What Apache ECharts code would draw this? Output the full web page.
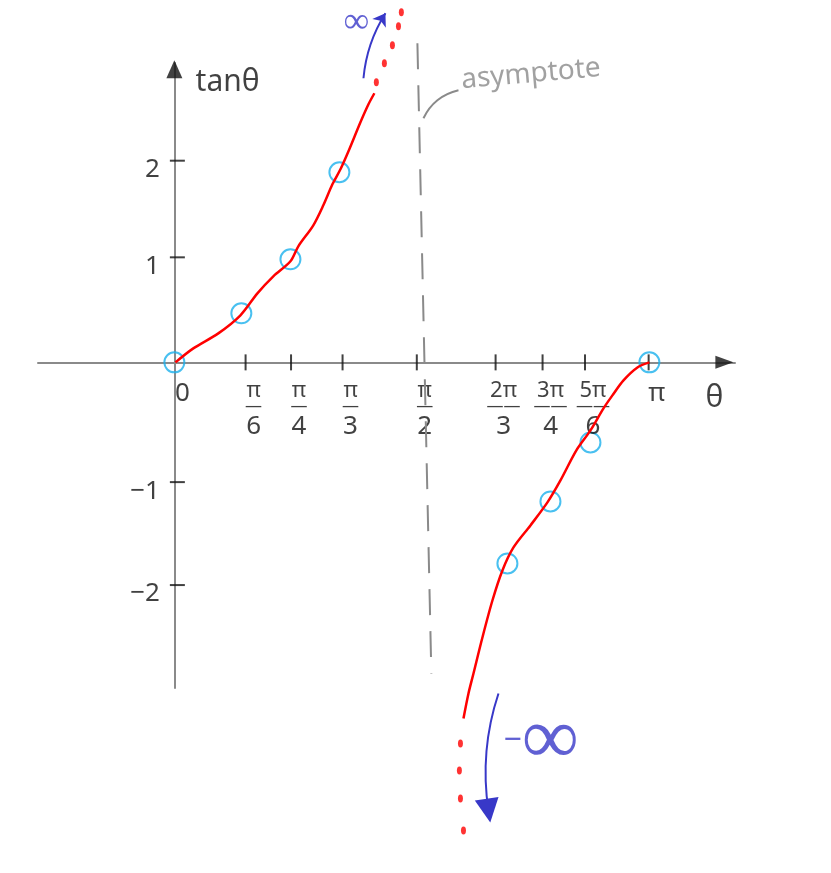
<!DOCTYPE html>
<html>
<head>
<meta charset="utf-8">
<title>tan θ</title>
<script src="https://cdn.jsdelivr.net/npm/echarts@6/dist/echarts.min.js"></script>
<style>
  html, body { margin: 0; background: #fff; }
  #main { width: 831px; height: 873px; }
</style>
</head>
<body>
<div id="main"></div>
<script>
// tick positions as they were drawn on the θ axis (radians), and their labels
var thetaTicks = [0, 0.47, 0.77, 1.11, 1.60, 2.12, 2.43, 2.71, 3.13];
var thetaLabels = ['0', 'π/6', 'π/4', 'π/3', 'π/2', '2π/3', '3π/4', '5π/6', 'π'];
// tick positions as drawn on the tanθ axis
var tanTicks = [1.92, 1.0, -1.14, -2.12];
var tanLabels = ['2', '1', '−1', '−2'];

// circled points
var pointTheta = [0, 0.442, 0.766, 1.089, 2.198, 2.482, 2.746, 3.135];
var pointTan = [0, 0.467, 0.981, 1.810, -1.914, -1.324, -0.762, 0];

// red curve, left branch (0 .. π/2)
var leftTheta = [0.007, 0.125, 0.290, 0.436, 0.548, 0.653, 0.766, 0.818, 0.917, 0.983, 1.043, 1.096, 1.149, 1.228, 1.281, 1.320];
var leftTan = [0, 0.133, 0.276, 0.448, 0.657, 0.819, 0.962, 1.105, 1.305, 1.495, 1.695, 1.838, 2.010, 2.286, 2.457, 2.562];
// red curve, right branch (π/2 .. π)
var rightTheta = [1.908, 1.941, 1.974, 2.033, 2.099, 2.165, 2.238, 2.350, 2.462, 2.548, 2.653, 2.746, 2.832, 2.891, 2.964, 3.056, 3.135];
var rightTan = [-3.390, -3.152, -2.962, -2.619, -2.267, -1.981, -1.762, -1.552, -1.333, -1.124, -0.838, -0.648, -0.438, -0.314, -0.171, -0.048, 0];
// dotted continuations towards ±∞
var upDotsTheta = [1.333, 1.386, 1.439, 1.479, 1.498];
var upDotsTan = [2.667, 2.848, 3.019, 3.200, 3.333];
var downDotsTheta = [1.888, 1.881, 1.888, 1.908];
var downDotsTan = [-3.629, -3.886, -4.152, -4.457];

// asymptote near θ = π/2 and the pointer to its label
var asymptote = [[1.604, 3.038], [1.696, -2.962]];
var asymptotePointer = [[1.644, 2.324], [1.736, 2.495], [1.875, 2.590]];
// blue arrows
var plusArrow = [[1.248, 2.705], [1.393, 3.324]];
var minusArrow = [[2.139, -3.152], [2.073, -4.267]];

// where the notes sit
var tanTitleAt = [0.14, 2.667];
var thetaTitleAt = [3.564, -0.343];
var asymptoteTextAt = [1.894, 2.686];
var plusInfAt = [1.201, 3.238];
var minusInfAt = [2.172, -3.6];

var FONT = 'Noto Sans';
var INK = '#111';
var RED = '#ff0000';
var CYAN = '#1cb0ec';
var BLUE = '#3838c8';
var GREY = '#8a8a8a';

function pairs(xs, ys) {
    return xs.map(function (x, i) { return [x, ys[i]]; });
}

function fraction(s) {
    if (s.indexOf('/') < 0) return '{s|' + s + '}';
    var p = s.split('/');
    var bar = p[0].length > 1 ? '——' : '—';
    return '{n|' + p[0] + '}\n{b|' + bar + '}\n{d|' + p[1] + '}';
}

function note(pos, text, label) {
    return { value: pos, name: text, label: label };
}

var chart = echarts.init(document.getElementById('main'));

var xTickData = thetaTicks.map(function (t, i) {
    return {
        value: [t, 0],
        name: thetaLabels[i],
        itemStyle: { color: i === 0 ? 'rgba(0,0,0,0)' : INK }
    };
});

var yTickData = tanTicks.map(function (v, i) {
    return { value: [0, v], name: tanLabels[i] };
});

var option = {
    animation: false,
    backgroundColor: '#fff',
    grid: { left: 38, top: 63, width: 697, height: 625 },
    xAxis: {
        type: 'value', min: -0.9, max: 3.7,
        splitLine: { show: false },
        axisTick: { show: false },
        axisLabel: { show: false },
        axisLine: { onZero: true, lineStyle: { color: GREY, width: 2 } }
    },
    yAxis: {
        type: 'value', min: -3.1, max: 2.85,
        splitLine: { show: false },
        axisTick: { show: false },
        axisLabel: { show: false },
        axisLine: { onZero: true, lineStyle: { color: GREY, width: 2 } }
    },
    series: [
        {
            name: 'asymptote', type: 'line', data: asymptote,
            showSymbol: false, clip: false, silent: true,
            lineStyle: { color: GREY, width: 2, type: [26, 16] }
        },
        {
            name: 'pointer', type: 'line', data: asymptotePointer, smooth: true,
            showSymbol: false, clip: false, silent: true,
            lineStyle: { color: GREY, width: 2 }
        },
        {
            name: 'tan left', type: 'line', data: pairs(leftTheta, leftTan), smooth: 0.3,
            showSymbol: false, clip: false, silent: true,
            lineStyle: { color: RED, width: 2.5 }
        },
        {
            name: 'tan right', type: 'line', data: pairs(rightTheta, rightTan), smooth: 0.3,
            showSymbol: false, clip: false, silent: true,
            lineStyle: { color: RED, width: 2.5 }
        },
        {
            name: 'dots', type: 'scatter', clip: false, silent: true,
            data: pairs(upDotsTheta, upDotsTan).concat(pairs(downDotsTheta, downDotsTan)),
            symbol: 'circle', symbolSize: [5, 8],
            itemStyle: { color: RED }
        },
        {
            name: 'points', type: 'scatter', clip: false, silent: true,
            data: pairs(pointTheta, pointTan),
            symbol: 'circle', symbolSize: 20,
            itemStyle: { color: 'rgba(0,0,0,0)', borderColor: CYAN, borderWidth: 2 }
        },
        {
            name: 'θ ticks', type: 'scatter', clip: false, silent: true,
            data: xTickData,
            symbol: 'rect', symbolSize: [2, 16],
            label: {
                show: true, position: 'bottom', distance: 10, offset: [8, 0],
                formatter: function (p) { return fraction(p.name); },
                color: INK, fontFamily: FONT,
                rich: {
                    s: { fontSize: 26, lineHeight: 26, fontFamily: FONT, color: INK },
                    n: { fontSize: 22, lineHeight: 20, fontFamily: FONT, color: INK },
                    b: { fontSize: 17, lineHeight: 12, fontFamily: FONT, color: INK },
                    d: { fontSize: 26, lineHeight: 28, fontFamily: FONT, color: INK }
                }
            }
        },
        {
            name: 'tan ticks', type: 'scatter', clip: false, silent: true,
            data: yTickData,
            symbol: 'rect', symbolSize: [15, 2], symbolOffset: [3, 0],
            itemStyle: { color: INK },
            label: {
                show: true, position: 'left', distance: 10, offset: [0, 9],
                formatter: '{b}', color: INK, fontFamily: FONT, fontSize: 26
            }
        },
        {
            name: 'axis heads', type: 'scatter', clip: false, silent: true,
            symbol: 'triangle',
            data: [
                { value: [3.63, 0], symbolSize: [13, 18], symbolRotate: -90 },
                { value: [0, 2.79], symbolSize: [16, 18] }
            ],
            itemStyle: { color: INK }
        },
        {
            name: 'to +inf', type: 'lines', coordinateSystem: 'cartesian2d', clip: false, silent: true,
            symbol: ['none', 'arrow'], symbolSize: 12,
            lineStyle: { color: BLUE, width: 2, opacity: 1, curveness: 0.12 },
            data: [{ coords: plusArrow }]
        },
        {
            name: 'to -inf', type: 'lines', coordinateSystem: 'cartesian2d', clip: false, silent: true,
            symbol: ['none', 'triangle'], symbolSize: 24,
            lineStyle: { color: BLUE, width: 2, opacity: 1, curveness: -0.12 },
            data: [{ coords: minusArrow }]
        },
        {
            name: 'notes', type: 'scatter', clip: false, silent: true,
            symbolSize: 0,
            label: { show: true, formatter: '{b}', fontFamily: FONT },
            data: [
                note(tanTitleAt, 'tanθ', { position: 'right', distance: 0, fontSize: 30, color: INK }),
                note(thetaTitleAt, 'θ', { position: 'inside', fontSize: 30, color: INK }),
                note(asymptoteTextAt, 'asymptote', { position: 'right', distance: 0, fontSize: 28, color: GREY, rotate: 5 }),
                note(plusInfAt, '∞', { position: 'inside', fontSize: 36, color: BLUE }),
                note(minusInfAt, '−∞', {
                    position: 'right', distance: 0, color: BLUE,
                    formatter: '{m|−}{i|∞}',
                    rich: {
                        m: { fontSize: 32, color: BLUE, fontFamily: FONT },
                        i: { fontSize: 80, color: BLUE, fontFamily: FONT }
                    }
                })
            ]
        }
    ]
};

chart.setOption(option);
</script>
</body>
</html>
